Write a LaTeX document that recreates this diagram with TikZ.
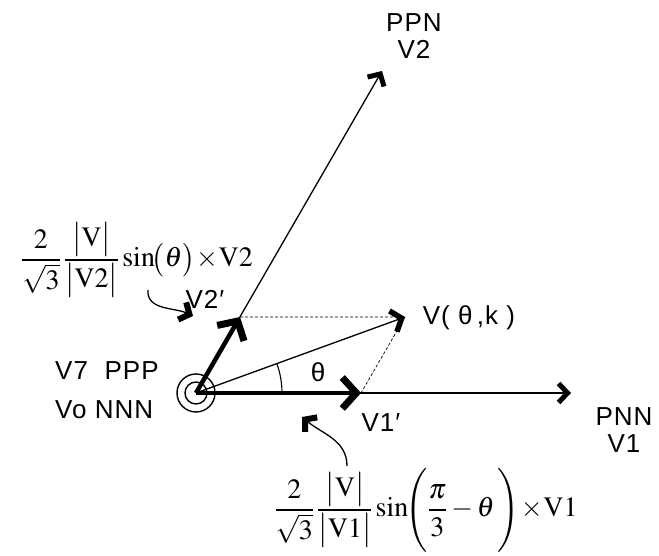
\documentclass[tikz,border=0pt]{standalone}
\usepackage{mathptmx}
\usepackage[no-math]{fontspec}
\setmainfont[LetterSpace=4]{Liberation Sans}
\usetikzlibrary{arrows.meta}

\begin{document}
\begin{tikzpicture}[x=1pt,y=1pt,
  lbl/.style={font=\fontsize{26}{27}\selectfont, inner sep=0pt, align=center},
  frm/.style={font=\fontsize{28}{30}\selectfont, inner sep=0pt},
  axisline/.style={line width=1.3pt, -{Straight Barb[length=9pt,width=19pt,line width=5pt]}},
  vecline/.style={line width=4.5pt, -{Straight Barb[length=14pt,width=31pt,line width=7pt]}},
  tipline/.style={line width=1.3pt, -{Straight Barb[length=9pt,width=22pt,line width=5.5pt]}},
  hookline/.style={line width=1.3pt, -{Straight Barb[length=8pt,width=19pt,line width=6pt]}},
  guide/.style={line width=0.7pt, dash pattern=on 3pt off 2pt}]
  \useasboundingbox (0,0) rectangle (659,556);

  % Origin and end points of the vectors
  \coordinate (O) at (196,163);
  \coordinate (V1end) at (571,163);
  \coordinate (V2end) at (382,485);
  \coordinate (V1p) at (361,163);
  \coordinate (V2p) at (240,239);
  \coordinate (Vp) at (405,239);

  % Axes and the resulting vector
  \draw [axisline] (O) -- (V1end);
  \draw [axisline] (O) -- (V2end);
  \draw [guide] (V2p) -- (Vp) (Vp) -- (V1p);
  \draw [tipline] (O) -- (Vp);
  \draw [vecline] (O) -- (V1p);
  \draw [vecline] (O) -- (V2p);
  \draw [line width=1.1pt] (282,163) arc (0:20:86);

  % Origin symbol
  \draw [line width=1.4pt] (O) circle (19) (O) circle (11);

  % Labels
  \node [lbl] (ppnlbl) at (414,520) {PPN\\V2};
  \node [lbl] (pnnlbl) at (624,126) {PNN\\V1};
  \node [lbl] (vlbl) at (469,238) {V(\ θ\,,k\ )};
  \node [lbl] (vtwop) at (205,257) {V2′};
  \node [lbl] (vonep) at (381,133) {V1′};
  \node [lbl] (thlbl) at (318,184) {θ};
  \node [lbl, anchor=west] (ppplbl) at (55,185) {V7\ \ PPP};
  \node [lbl, anchor=west] (nnnlbl) at (55,146) {Vo NNN};

  % Formulas and their pointers
  \node [frm] (ftwo) at (137,296)
    {$\displaystyle\frac{2}{\sqrt{3}}\,\frac{\bigl|\mathrm{V}\bigr|}{\bigl|\mathrm{V2}\bigr|}\sin\!\bigl(\theta\bigr)\!\times\!\mathrm{V2}$};
  \node [frm] (fone) at (426,46)
    {$\displaystyle\frac{2}{\sqrt{3}}\,\frac{\bigl|\mathrm{V}\bigr|}{\bigl|\mathrm{V1}\bigr|}\sin\!\Biggl(\frac{\pi}{3}-\theta\,\Biggr)\!\times\!\mathrm{V1}$};
  \coordinate (c1s) at (148,266);
  \coordinate (c1e) at (193,240);
  \coordinate (c2s) at (347,90);
  \coordinate (c2e) at (302,139);
  \draw [hookline] (c1s) to [out=-95, in=155] (c1e);
  \draw [hookline] (c2s) to [out=90, in=-40] (c2e);
\end{tikzpicture}
\end{document}
